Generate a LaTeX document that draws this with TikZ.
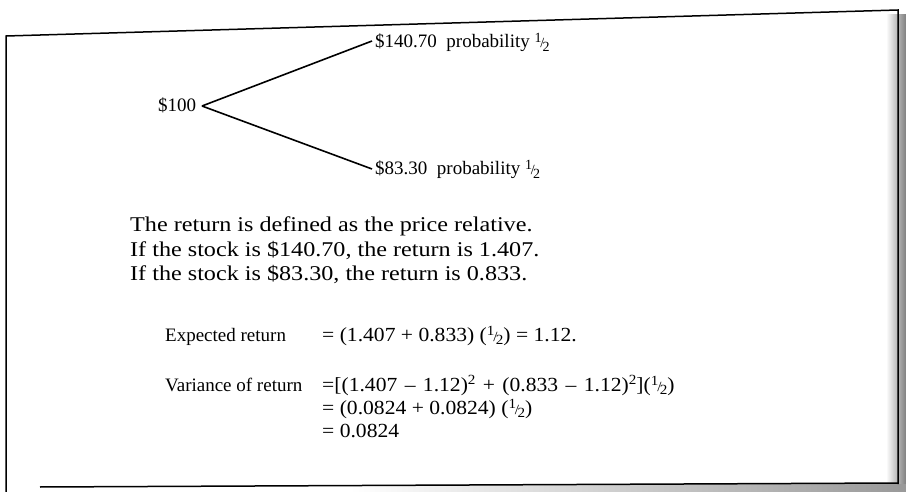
\documentclass[tikz,border=0pt]{standalone}
\usepackage{fontspec}
\setmainfont{Liberation Serif}
\newfontfamily\widefont[FakeStretch=1.15]{Liberation Serif}
\newfontfamily\eqfont[FakeStretch=1.08]{Liberation Serif}
\newcommand\halfx{{\fontsize{14}{14}\selectfont\raisebox{.85ex}{1}\kern-.08em\relax/\kern-.12em\relax\raisebox{-.5ex}{2}}}
\newcommand\sqx{{\fontsize{14}{14}\selectfont\raisebox{1ex}{2}}}
\newcommand\opx[1]{\kern.1em\relax#1\kern.1em\relax}
\begin{document}
\begin{tikzpicture}[x=1pt,y=-1pt,
  txt/.style={anchor=base west,inner sep=0pt,font=\fontsize{19}{22}\selectfont},
  wtxt/.style={anchor=base west,inner sep=0pt,font=\widefont\fontsize{21}{24}\selectfont},
  etxt/.style={anchor=base west,inner sep=0pt,font=\eqfont\fontsize{20}{23}\selectfont},
  branch/.style={line width=1.6pt},
  frame/.style={line width=1.5pt}]
\useasboundingbox (0,0) rectangle (906,492);
% scan shadow on the right and bottom
\shade[left color=white,right color=black!50] (886,15) rectangle (906,492);
\shade[left color=white,right color=black!40] (350,484) rectangle (906,492);
% frame
\draw[frame] (6,492) -- (6,36) -- (898,10) -- (898,484);
\draw[frame] (40,487) -- (898,483);
% tree
\node[txt] (p0) at (158,112) {\$100};
\node[txt] (up) at (375,48) {\$140.70\ \ probability \halfx};
\node[txt] (dn) at (375,175) {\$83.30\ \ probability \halfx};
\coordinate (root) at (202,106);
\coordinate (upend) at (372,41);
\coordinate (dnend) at (372,169);
\draw[branch] (root) -- (upend);
\draw[branch] (root) -- (dnend);
% text
\node[wtxt] (t1) at (130,232) {The return is defined as the price relative.};
\node[wtxt] (t2) at (130,256) {If the stock is \$140.70, the return is 1.407.};
\node[wtxt] (t3) at (130,280) {If the stock is \$83.30, the return is 0.833.};
\node[txt] (e1) at (165,341) {Expected return};
\node[etxt] (e2) at (322,341) {= (1.407 + 0.833) (\halfx) = 1.12.};
\node[txt] (v1) at (165,391) {Variance of return};
\node[etxt] (v2) at (322,391) {=[(1.407 \opx{–} 1.12)\sqx{} \opx{+} (0.833 \opx{–} 1.12)\sqx](\halfx)};
\node[etxt] (v3) at (322,414) {= (0.0824 + 0.0824) (\halfx)};
\node[etxt] (v4) at (322,437) {= 0.0824};
\end{tikzpicture}
\end{document}
